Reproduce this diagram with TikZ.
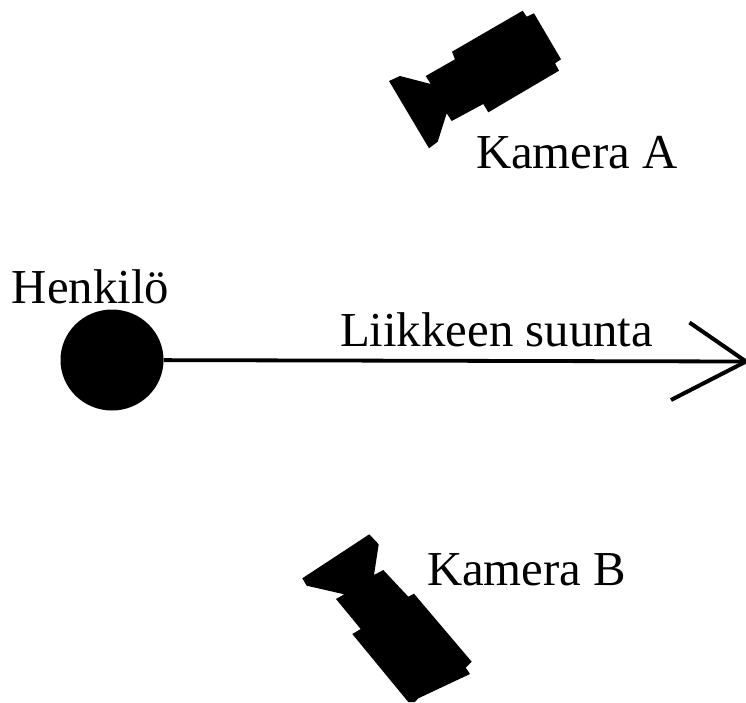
\documentclass[tikz,border=0pt]{standalone}
\usepackage{fontspec}
\setmainfont{Liberation Serif}
\tikzset{
  lbl/.style={anchor=base west,inner sep=0pt,outer sep=0pt,font=\fontsize{48.8}{54}\selectfont,text=black},
  person/.style={ellipse,fill=black,inner sep=0pt,minimum width=103pt,minimum height=101pt},
  shaft/.style={draw=black,line width=3.8pt},
  barb/.style={draw=black,line width=4pt},
  cam/.style={fill=black,draw=none}
}
\usetikzlibrary{shapes.geometric}
\begin{document}
\begin{tikzpicture}[x=1pt,y=-1pt]
\useasboundingbox[fill=white] (0,0) rectangle (746,702);
% Camera A
\fill[cam] (389,81) -- (400,76) -- (430.7,84) -- (425.7,76) -- (455,59.3) -- (452,51.7) -- (522.7,10.7) -- (526.7,16.7) -- (534,13.3) -- (561,59.3) -- (555,63.3) -- (559,70.7) -- (488.3,112.3) -- (483.3,104) -- (451.7,121) -- (446.7,113.3) -- (437.7,141.7) -- (429,148.3) -- cycle;
% Camera B
\fill[cam] (302.3,578.3) -- (369.3,534.3) -- (378.7,544.3) -- (374,575) -- (383.3,570) -- (408.3,596.7) -- (414,593.7) -- (471.7,661.7) -- (465.7,667.7) -- (470,674) -- (418.3,698.3) -- (415,702) -- (408.3,702) -- (352.3,634) -- (360.7,629) -- (336,599) -- (344.3,594.3) -- (306.7,585.7) -- cycle;
% Person and arrow
\node[person] (person) at (112,360) {};
\coordinate (tip) at (746,361.5);
\coordinate (barbA) at (689.5,322.5);
\coordinate (barbB) at (671,400);
\draw[shaft] (person) -- (tip);
\draw[barb] (barbA) -- (tip) -- (barbB);
% Labels
\node[lbl] (henkilo) at (12,303) {Henkilö};
\node[lbl] (suunta) at (340,346) {Liikkeen suunta};
\node[lbl] (kameraA) at (476,168) {Kamera A};
\node[lbl] (kameraB) at (427,585) {Kamera B};
\end{tikzpicture}
\end{document}
